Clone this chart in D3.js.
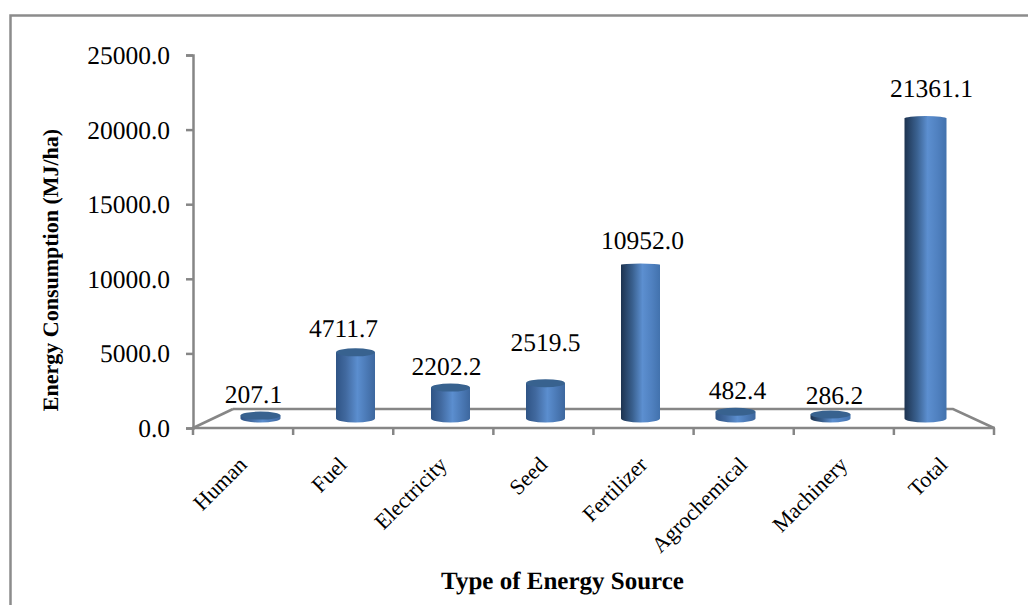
<!DOCTYPE html>
<html><head><meta charset="utf-8">
<script src="https://d3js.org/d3.v7.min.js"></script>
<style>html,body{margin:0;background:#fff}svg{display:block}text{font-family:"Liberation Serif",serif;fill:#000;text-rendering:geometricPrecision}</style>
</head><body><svg id="c" width="1028" height="605"></svg>
<script>
const categories = ["Human","Fuel","Electricity","Seed","Fertilizer","Agrochemical","Machinery","Total"];
const energyValues = [207.1,4711.7,2202.2,2519.5,10952.0,482.4,286.2,21361.1];
const valueLabels = ["207.1","4711.7","2202.2","2519.5","10952.0","482.4","286.2","21361.1"];
const yTicks = [0,5000,10000,15000,20000,25000];

const svg = d3.select("#c");
const grey = "#868686";
const defs = svg.append("defs");
function cyl(id, stops){
  const g = defs.append("linearGradient").attr("id",id);
  stops.forEach(s=>g.append("stop").attr("offset",s[0]).attr("stop-color",s[1]));
}
cyl("cylA",[[0,"#2f5485"],[0.25,"#41699f"],[0.55,"#5b8ecf"],[0.8,"#4a78b4"],[1,"#3d679e"]]);
cyl("cylB",[[0,"#1d3350"],[0.3,"#3a6190"],[0.55,"#5c8fd0"],[0.8,"#4f80bf"],[1,"#4272ad"]]);
const darkCyl = new Set(["Total","Machinery","Fertilizer"]);
const flatTop = {Total:2.5,Fertilizer:1.2};

// frame
svg.append("path").attr("d","M10.5,605V15.5H1028").attr("fill","none").attr("stroke","#8c8c8c").attr("stroke-width",2.5);

const xFront = d3.scaleBand().domain(categories).range([193,994]);
const xBack = d3.scaleBand().domain(categories).range([213,973]);
const yAxisScale = d3.scaleLinear().domain([0,25000]).range([428,55]);
const yBar = d3.scaleLinear().domain([0,25000]).range([418.5,67.5]);

// floor
svg.append("path").attr("d","M233,409H953L994,428").attr("fill","none").attr("stroke",grey).attr("stroke-width",2.5);
svg.append("path").attr("d","M193,428L233,409").attr("fill","none").attr("stroke",grey).attr("stroke-width",2.5);

// y axis
const yAxis = d3.axisLeft(yAxisScale).tickValues(yTicks).tickFormat(d3.format(".1f")).tickSize(7).tickPadding(16);
const gy = svg.append("g").attr("transform","translate(193,0)").call(yAxis);
gy.selectAll("path,line").attr("stroke",grey).attr("stroke-width",2.5);
gy.selectAll("text").attr("font-size",25.5).attr("font-family","Liberation Serif").attr("dy","0.33em");

// x axis
const xAxis = d3.axisBottom(xFront).tickSize(0).tickFormat("");
const gx = svg.append("g").attr("transform","translate(0,428)").call(xAxis);
gx.selectAll("path").attr("stroke",grey).attr("stroke-width",2.5).attr("d","M192,0H995");
gx.selectAll("g.tick").remove();
svg.append("g").selectAll("line").data(d3.range(categories.length+1)).join("line")
  .attr("x1",i=>193+i*xFront.step()).attr("x2",i=>193+i*xFront.step()).attr("y1",428).attr("y2",435)
  .attr("stroke",grey).attr("stroke-width",2.5);

// bars
const rows = categories.map((c,i)=>({c,v:energyValues[i],l:valueLabels[i]}));
const rx = d=> d.c==="Total"?21:(d.c==="Human"||d.c==="Agrochemical"||d.c==="Machinery")?20:19.5;
const cx = d=> xBack(d.c)+xBack.bandwidth()/2;
const ry = 4;
const fillOf = d=> darkCyl.has(d.c)?"url(#cylB)":"url(#cylA)";
const bars = svg.append("g").selectAll("g").data(rows).join("g");
bars.append("path").attr("d",d=>{
  const x=cx(d), r=rx(d), y0=yBar(0), y1=yBar(d.v);
  return `M${x-r},${y1}V${y0}A${r},${ry} 0 0 0 ${x+r},${y0}V${y1}Z`;
}).attr("fill",fillOf);
bars.append("ellipse").attr("cx",cx).attr("cy",d=>yBar(d.v)).attr("rx",rx).attr("ry",d=>flatTop[d.c]||ry)
  .attr("fill",d=>flatTop[d.c]?fillOf(d):"#38628f");

// value labels
const nudge = {Human:[-7,-21],Fuel:[-12,-24],Electricity:[-4,-21],Seed:[0,-41],Fertilizer:[2,-24],Agrochemical:[2,-21],Machinery:[4,-19],Total:[6,-30]};
svg.append("g").selectAll("text").data(rows).join("text")
  .attr("x",d=>cx(d)+nudge[d.c][0]).attr("y",d=>yBar(d.v)+nudge[d.c][1])
  .attr("text-anchor","middle").attr("dy","0.33em").attr("font-size",25.5).text(d=>d.l);

// category labels
svg.append("g").selectAll("text").data(categories).join("text")
  .attr("text-anchor","end").attr("font-size",22)
  .attr("transform",d=>`translate(${xFront(d)+xFront.bandwidth()/2+5},${466}) rotate(-45)`)
  .text(d=>d);

// titles
svg.append("text").attr("x",562.5).attr("y",589).attr("text-anchor","middle").attr("font-size",25).attr("font-weight","bold").text("Type of Energy Source");
svg.append("text").attr("transform","translate(58,270) rotate(-90)").attr("text-anchor","middle").attr("font-size",22).attr("font-weight","bold").text("Energy Consumption (MJ/ha)");
</script></body></html>
